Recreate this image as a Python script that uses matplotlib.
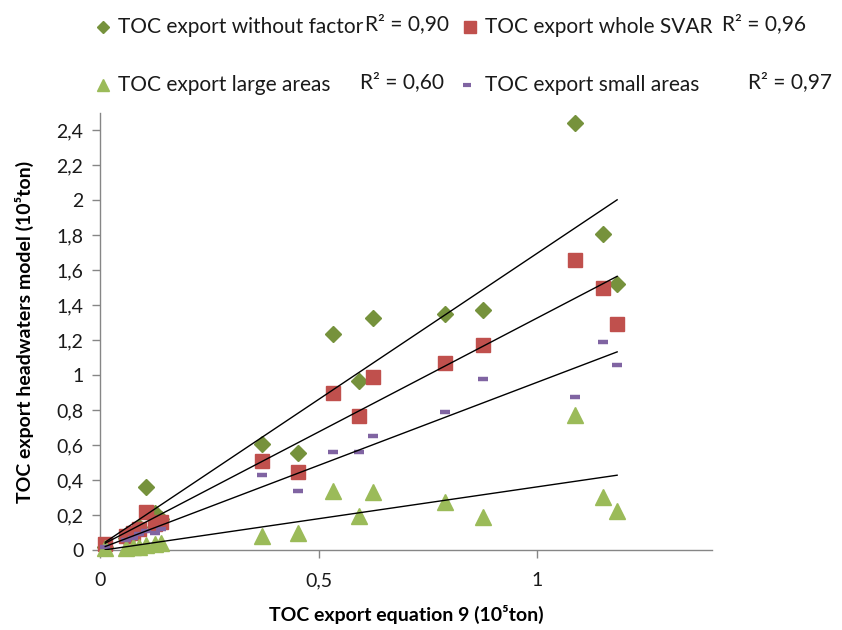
import matplotlib
matplotlib.use("Agg")
import matplotlib.pyplot as plt
from matplotlib.lines import Line2D
from matplotlib.ticker import FixedLocator, FixedFormatter
import numpy as np

plt.rcParams['font.family'] = ['Lato', 'DejaVu Sans']

# ---- data (10^5 ton) ----
eq9 = [0.012, 0.06, 0.075, 0.09, 0.105, 0.125, 0.14, 0.371, 0.453, 0.534,
       0.592, 0.625, 0.789, 0.876, 1.086, 1.150, 1.183]
without_factor = [0.02, 0.07, 0.09, 0.13, 0.36, 0.21, 0.18, 0.606, 0.553, 1.238,
                  0.967, 1.330, 1.352, 1.371, 2.442, 1.810, 1.520]
whole_svar = [0.035, 0.08, 0.10, 0.12, 0.22, 0.15, 0.16, 0.510, 0.447, 0.901,
              0.766, 0.990, 1.072, 1.171, 1.657, 1.499, 1.295]
large_areas = [0.01, 0.01, 0.015, 0.02, 0.03, 0.035, 0.04, 0.080, 0.095, 0.337,
               0.194, 0.330, 0.276, 0.187, 0.771, 0.305, 0.223]
small_areas = [0.02, 0.06, 0.07, 0.09, 0.11, 0.10, 0.12, 0.427, 0.339, 0.560,
               0.560, 0.653, 0.792, 0.977, 0.878, 1.190, 1.059]

series_names = ["TOC export without factor", "TOC export whole SVAR",
                "TOC export large areas", "TOC export small areas"]
r2_labels = ["R² = 0,90", "R² = 0,96", "R² = 0,60", "R² = 0,97"]

y_ticks = [0, 0.2, 0.4, 0.6, 0.8, 1.0, 1.2, 1.4, 1.6, 1.8, 2.0, 2.2, 2.4]
y_ticklabels = ["0", "0,2", "0,4", "0,6", "0,8", "1", "1,2", "1,4", "1,6",
                "1,8", "2", "2,2", "2,4"]
x_ticks = [0, 0.5, 1.0]
x_ticklabels = ["0", "0,5", "1"]

c_diamond = "#76923C"
c_square = "#C0504D"
c_tri = "#9BBB59"
c_dash = "#8064A2"
axis_gray = "#868686"

fig = plt.figure(figsize=(8.42, 6.30), dpi=100)
ax = fig.add_axes([100/842, 1-550/630, 612/842, 437/630])

x = np.array(eq9)
styles = [
    (without_factor, dict(marker='D', ms=7.8, color=c_diamond, mec=c_diamond)),
    (whole_svar, dict(marker='s', ms=10.5, color=c_square, mec=c_square)),
    (large_areas, dict(marker='^', ms=11, color=c_tri, mec=c_tri)),
    (small_areas, dict(marker='_', ms=6.5, mew=3.2, color=c_dash, mec=c_dash)),
]
for vals, st in styles:
    ax.plot(x, vals, linestyle='none', zorder=3, clip_on=False, **st)

xs = np.array([x.min(), x.max()])
for vals, _ in styles:
    k, b = np.polyfit(x, np.array(vals), 1)
    ax.plot(xs, k*xs + b, color='black', lw=1.0, zorder=4)

ax.set_xlim(0, 1.4)
ax.set_ylim(0, 2.5)
for s in ['top', 'right']:
    ax.spines[s].set_visible(False)
for s in ['left', 'bottom']:
    ax.spines[s].set_color(axis_gray)
    ax.spines[s].set_linewidth(1.0)
ax.yaxis.set_major_locator(FixedLocator(y_ticks))
ax.yaxis.set_major_formatter(FixedFormatter(y_ticklabels))
ax.xaxis.set_major_locator(FixedLocator(x_ticks))
ax.xaxis.set_major_formatter(FixedFormatter(x_ticklabels))
ax.tick_params(axis='both', colors=axis_gray, labelcolor='#1a1a1a',
               labelsize=14, length=6, width=1.0, direction='out')
ax.tick_params(axis='x', pad=10)
ax.tick_params(axis='y', pad=6)

ax.set_xlabel("TOC export equation 9 (10⁵ton)", fontsize=14, fontweight='bold',
              labelpad=11)
ax.set_ylabel("TOC export headwaters model (10⁵ton)", fontsize=14,
              fontweight='bold', labelpad=16)

# ---- legend (manual, two rows) ----
leg_fs = 15
row_y = [1-27/630, 1-85/630]
entries = [
    (103, row_y[0], 118, 365, 0, dict(marker='D', ms=6, color=c_diamond)),
    (470, row_y[0], 485, 722, 1, dict(marker='s', ms=9, color=c_square)),
    (103, row_y[1], 118, 360, 2, dict(marker='^', ms=9, color=c_tri)),
    (467, row_y[1], 485, 748, 3, dict(marker='_', ms=6, mew=3, color=c_dash)),
]
for mx, yy, tx, rx, i, mst in entries:
    fig.add_artist(Line2D([mx/842], [yy], transform=fig.transFigure,
                          linestyle='none', **mst))
    fig.text(tx/842, yy, series_names[i], fontsize=leg_fs, color='#1a1a1a',
             va='center', ha='left')
    fig.text(rx/842, yy + 0.004, r2_labels[i], fontsize=leg_fs, color='#1a1a1a',
             va='center', ha='left')

fig.savefig("out.png", dpi=100, facecolor='white')
